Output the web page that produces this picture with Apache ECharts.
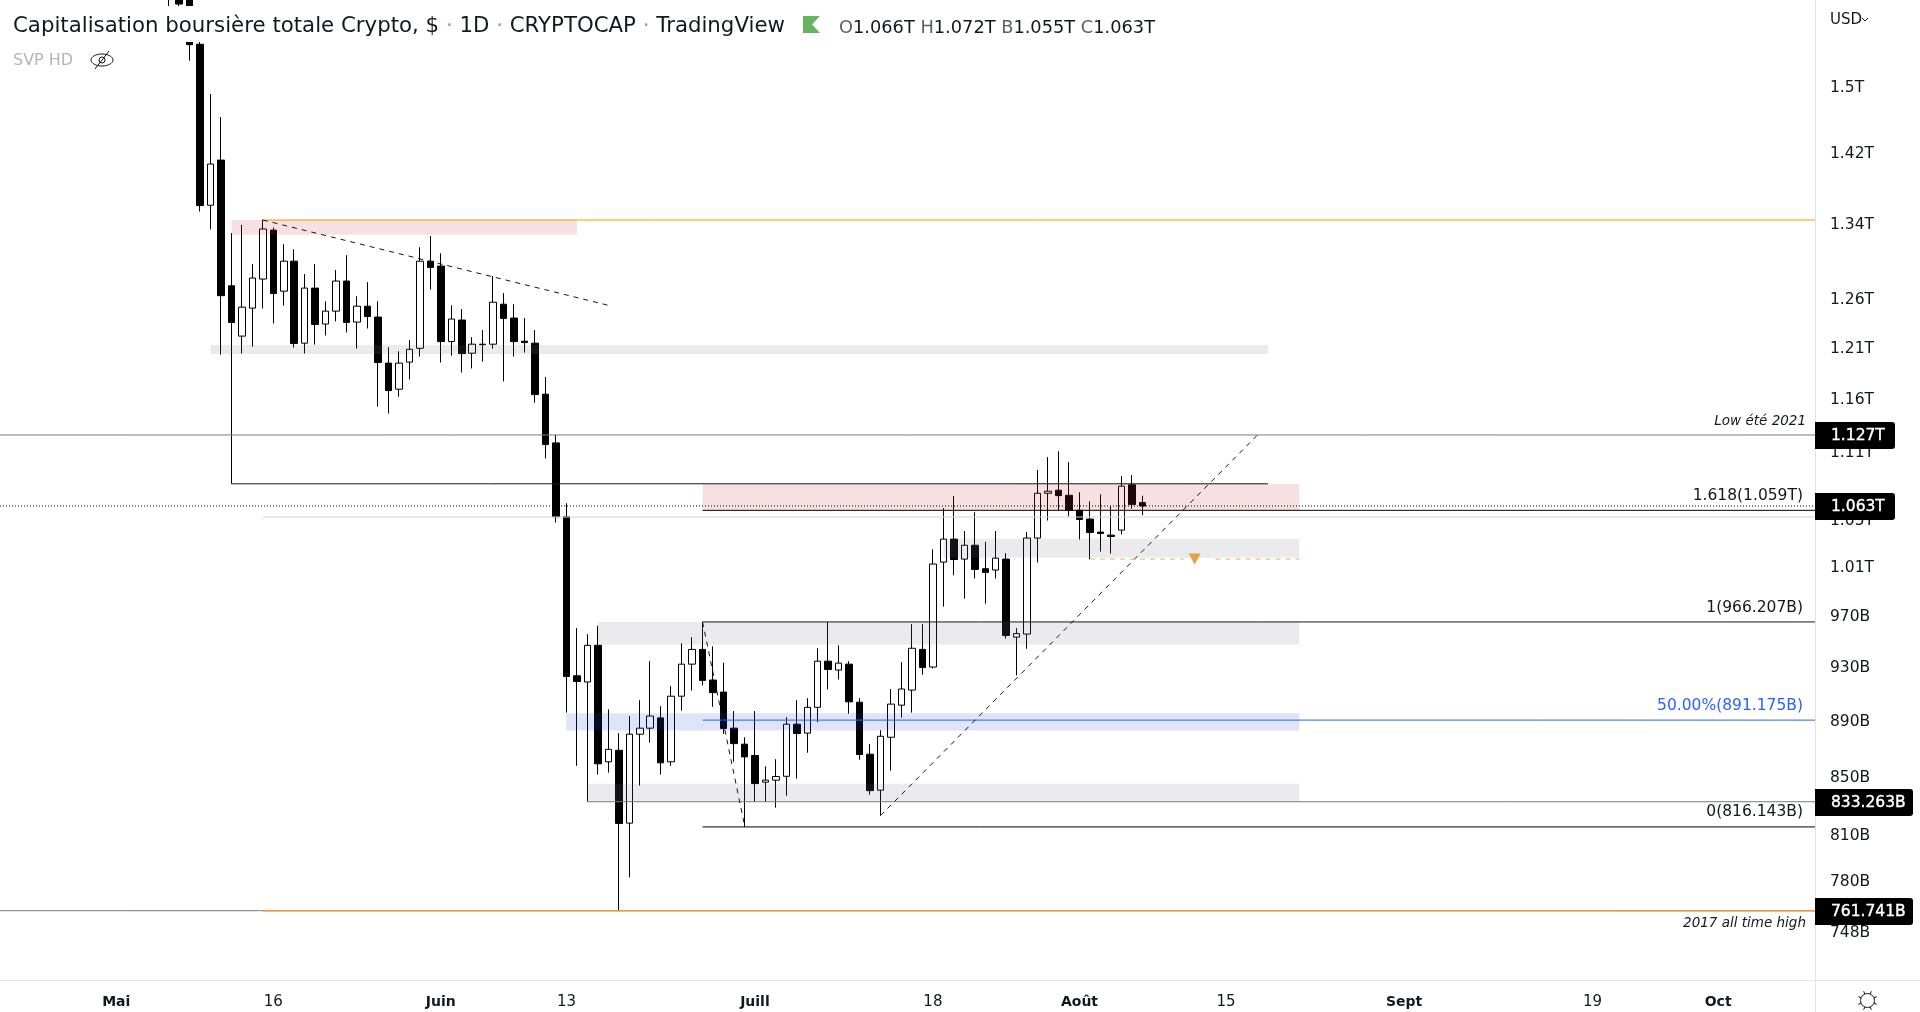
<!DOCTYPE html>
<html>
<head>
<meta charset="utf-8">
<title>Capitalisation boursière totale Crypto</title>
<script src="https://cdn.jsdelivr.net/npm/echarts@6/dist/echarts.min.js"></script>
<style>
  html, body { margin: 0; padding: 0; background: #fff; }
  #chart { width: 1920px; height: 1012px; }
</style>
</head>
<body>
<div id="chart"></div>
<script>
// bougies journalieres, valeurs en milliards
const dates = [
  '2022-05-06','2022-05-07','2022-05-08','2022-05-09','2022-05-10','2022-05-11','2022-05-12','2022-05-13','2022-05-14','2022-05-15',
  '2022-05-16','2022-05-17','2022-05-18','2022-05-19','2022-05-20','2022-05-21','2022-05-22','2022-05-23','2022-05-24','2022-05-25',
  '2022-05-26','2022-05-27','2022-05-28','2022-05-29','2022-05-30','2022-05-31','2022-06-01','2022-06-02','2022-06-03','2022-06-04',
  '2022-06-05','2022-06-06','2022-06-07','2022-06-08','2022-06-09','2022-06-10','2022-06-11','2022-06-12','2022-06-13','2022-06-14',
  '2022-06-15','2022-06-16','2022-06-17','2022-06-18','2022-06-19','2022-06-20','2022-06-21','2022-06-22','2022-06-23','2022-06-24',
  '2022-06-25','2022-06-26','2022-06-27','2022-06-28','2022-06-29','2022-06-30','2022-07-01','2022-07-02','2022-07-03','2022-07-04',
  '2022-07-05','2022-07-06','2022-07-07','2022-07-08','2022-07-09','2022-07-10','2022-07-11','2022-07-12','2022-07-13','2022-07-14',
  '2022-07-15','2022-07-16','2022-07-17','2022-07-18','2022-07-19','2022-07-20','2022-07-21','2022-07-22','2022-07-23','2022-07-24',
  '2022-07-25','2022-07-26','2022-07-27','2022-07-28','2022-07-29','2022-07-30','2022-07-31','2022-08-01','2022-08-02','2022-08-03',
  '2022-08-04','2022-08-05','2022-08-06','2022-08-07'
];
const opens = [
  1750,1625,1640,1554.7,1361.7,1413.3,1274.3,1222.6,1251.1,1281.4,
  1334.1,1268.7,1300.4,1215.5,1271.9,1234.8,1248.0,1279.3,1236.8,1253.1,
  1241.9,1195.7,1170.3,1196.7,1210.4,1300.4,1295.2,1217.1,1238.9,1205.5,
  1214.0,1214.5,1255.1,1240.9,1217.5,1215.5,1165.5,1119.7,1053.6,924.3,
  919.6,947.8,861.1,869.3,818.7,880.9,885.3,892.8,861.1,908.9,
  933.2,944.6,921.1,912.0,885.3,873.7,865.6,846.8,848.2,850.9,
  888.2,881.7,900.6,935.5,928.7,933.2,904.4,866.5,841.2,878.7,
  902.2,913.5,944.6,931.0,1015.0,1034.4,1017.5,1029.2,1009.5,1008.4,
  1017.5,954.2,956.6,1035.3,1074.2,1076.9,1072.4,1059.3,1051.6,1040.4,
  1037.8,1042.1,1081.7,1066
];
const closes = [
  1700,1607,1554.2,1361.3,1408.7,1264.0,1236.4,1252.1,1282.5,1335.3,
  1266.2,1300.4,1215.1,1271.9,1234.4,1248.0,1279.3,1236.4,1253.1,1242.5,
  1196.3,1169.0,1195.7,1209.4,1300.4,1293.7,1217.1,1239.9,1205.1,1214.5,
  1214.5,1257.2,1240.5,1217.1,1216.1,1165.1,1118.2,1053.6,923.8,920.0,
  947.8,859.7,870.0,818.5,880.9,885.3,894.2,860.4,908.9,933.2,
  944.6,920.8,911.6,885.0,874.1,864.6,845.8,848.2,850.7,888.2,
  881.4,900.6,935.5,929.1,934.0,904.7,866.3,840.9,879.4,903.0,
  914.3,945.5,930.7,1013.4,1034.4,1017.2,1029.2,1008.9,1006.4,1018.3,
  955.5,957.0,1035.3,1074.2,1076.0,1072.1,1059.3,1051.3,1040.1,1039.2,
  1036.6,1080.5,1064.2,1063
];
const lows = [
  1590,1590,1533.9,1354.7,1334.8,1204.1,1082.6,1205.1,1212.1,1250.7,
  1235.4,1253.7,1211.0,1205.1,1214.1,1223.2,1237.5,1226.3,1210.0,1230.3,
  1153.6,1147.1,1163.1,1179.7,1202.2,1270.4,1196.3,1203.1,1186.5,1190.5,
  1197.2,1210.0,1177.8,1202.2,1206.1,1157.4,1105.4,1048.7,896.7,858.3,
  833.3,852.1,853.5,761.7,782.9,844.4,874.8,852.1,858.3,898.1,
  913.2,917.0,901.0,881.1,861.1,816.1,833.0,833.0,829.2,837.4,
  849.3,867.6,889.7,914.0,921.5,895.9,862.6,838.1,823.8,854.9,
  893.0,896.7,925.1,929.9,978.5,1004.0,984.9,1001.4,980.9,1001.4,
  953.1,924.6,945.1,1014.7,1050.4,1059.3,1053.8,1034.1,1017.5,1023.8,
  1022.1,1038.4,1060.7,1055
];
const highs = [
  1790,1640,1670,1566.8,1492.4,1464.2,1330.8,1339.7,1297.3,1345.5,
  1337.0,1318.7,1313.2,1286.7,1297.3,1258.2,1290.9,1306.8,1263.4,1278.2,
  1258.2,1211.4,1207.4,1218.6,1315.4,1327.5,1308.9,1254.1,1250.1,1221.6,
  1228.7,1284.6,1266.6,1255.1,1240.9,1228.7,1182.1,1127.2,1065.4,961.3,
  956.6,963.2,899.1,881.7,894.2,905.9,935.5,901.5,916.5,949.4,
  954.2,966.1,947.0,934.3,897.8,878.7,897.8,857.9,862.9,893.3,
  905.9,907.4,945.5,966.1,947.8,935.5,907.4,873.7,883.8,914.3,
  934.8,964.5,964.5,1025.8,1061.1,1071.8,1041.3,1057.6,1032.1,1041.3,
  1022.5,961.3,1040.4,1095.0,1106.6,1112.0,1102.1,1075.1,1067.1,1073.3,
  1062.8,1089.5,1090.4,1072
];

const yTicks = [1500, 1420, 1340, 1260, 1210, 1160, 1110, 1050, 1010, 970, 930, 890, 850, 810, 780, 748];
const xTickDates = ['2022-05-01','2022-05-16','2022-06-01','2022-06-13','2022-07-01','2022-07-18','2022-08-01','2022-08-15','2022-09-01','2022-09-19','2022-10-01'];
const xTickLabels = ['Mai','16','Juin','13','Juill','18','Août','15','Sept','19','Oct'];

// zones: debut, fin, bas, haut
const pinkZones = [
  ['2022-05-12', '2022-06-14', 1329.0, 1345.2],
  ['2022-06-26', '2022-08-22', 1059.2, 1082.6]
];
const greyZones = [
  ['2022-05-10', '2022-08-19', 1204.8, 1213.8],
  ['2022-07-19', '2022-08-22', 1018.6, 1034.7],
  ['2022-06-16', '2022-08-22', 948.3, 966.2],
  ['2022-06-15', '2022-08-22', 833.3, 845.6]
];
const blueZones = [['2022-06-13', '2022-08-22', 883.6, 896.3]];

const ath2017 = 761.741;
const lowSummer = 1127;
const lastClose = 1063;
const fib1618 = 1059.2;
const fib1 = 966.207;
const fib50 = 891.175;
const fib0 = 816.143;
const demand = 833.263;
const resistance = 1345.2;
const rangeTop = 1082.6;
const greyLevel = 1053.4;
const alertLevel = 1017.5;

const downTrend = [['2022-05-15', 1345.2], ['2022-06-17', 1254]];
const dropTrend = [['2022-06-26', 966.2], ['2022-06-30', 817.5]];
const upTrend = [['2022-07-13', 823.8], ['2022-08-18', 1127]];

const font = '"DejaVu Sans", sans-serif';
const ink = '#131722';
const dayMs = 86400000;
const ts = d => {
  const p = d.split('-');
  return Date.UTC(+p[0], +p[1] - 1, +p[2]);
};
const may16 = ts('2022-05-16');
const xMin = may16 - 273.3 / 10.47 * dayMs;
const xMax = may16 + (1815 - 273.3) / 10.47 * dayMs;
const xTickTimes = xTickDates.map(ts);

function toX(d) {
  return typeof d === 'string' ? ts(d) : d;
}
function seg(points, color, width, type) {
  return {
    type: 'line',
    data: points.map(p => [toX(p[0]), p[1]]),
    showSymbol: false,
    symbol: 'none',
    silent: true,
    z: 4,
    lineStyle: { color, width, type: type || 'solid' },
    animation: false
  };
}
function zones(list, color) {
  return {
    type: 'line',
    data: [],
    silent: true,
    markArea: {
      silent: true,
      z: 3,
      animation: false,
      itemStyle: { color },
      data: list.map(r => [{ xAxis: ts(r[0]), yAxis: r[2] }, { xAxis: ts(r[1]), yAxis: r[3] }])
    }
  };
}
function text(x, y, str, fill, fontCss, align) {
  return {
    type: 'text', x, y, z: 30, silent: true,
    style: { text: str, fill, font: fontCss, align: align || 'left', verticalAlign: 'middle' }
  };
}
function tag(y, width, str) {
  return [
    { type: 'rect', z: 40, silent: true, shape: { x: 1815, y: y, width, height: 27, r: [0, 3, 3, 0] }, style: { fill: '#000' } },
    { type: 'text', z: 41, x: 1831, y: y + 14, silent: true,
      style: { text: str, fill: '#fff', stroke: '#fff', lineWidth: 0.4, font: '15.5px ' + font, verticalAlign: 'middle' } }
  ];
}
function line(x1, y1, x2, y2, stroke, w) {
  return { type: 'line', z: 30, silent: true, shape: { x1, y1, x2, y2 }, style: { stroke, lineWidth: w || 1 } };
}

// roue dentee en bas a droite
const gear = [{ type: 'circle', z: 30, silent: true, shape: { cx: 1867.5, cy: 1000.5, r: 7 }, style: { fill: '#fff', stroke: ink, lineWidth: 1 } }];
for (let i = 0; i < 8; i++) {
  const a = i * Math.PI / 4 + Math.PI / 8;
  gear.push(line(1867.5 + 7 * Math.cos(a), 1000.5 + 7 * Math.sin(a), 1867.5 + 10 * Math.cos(a), 1000.5 + 10 * Math.sin(a), ink));
}

const chart = echarts.init(document.querySelector('#chart'));
const option = {
  animation: false,
  backgroundColor: '#fff',
  grid: { left: 0, top: 0, width: 1815, height: 980 },
  xAxis: {
    type: 'value',
    min: xMin,
    max: xMax,
    axisLine: { show: false },
    axisTick: { show: false },
    splitLine: { show: false },
    axisLabel: {
      customValues: xTickTimes,
      margin: 15,
      fontFamily: font,
      fontSize: 15,
      color: ink,
      formatter: v => {
        const s = xTickLabels[xTickTimes.indexOf(v)];
        return isNaN(+s) ? '{b|' + s + '}' : s;
      },
      rich: { b: { fontFamily: font, fontSize: 14, fontWeight: 'bold', color: ink } }
    }
  },
  yAxis: {
    type: 'log',
    position: 'right',
    min: 719.5,
    max: 1612.4,
    axisLine: { show: false },
    axisTick: { show: false },
    splitLine: { show: false },
    minorTick: { show: false },
    axisLabel: {
      customValues: yTicks,
      margin: 15,
      align: 'left',
      padding: [7, 0, 0, 0],
      fontFamily: font,
      fontSize: 15.5,
      color: ink,
      formatter: v => v >= 1000 ? (+(v / 1000).toFixed(2)) + 'T' : v + 'B'
    }
  },
  series: [
    {
      type: 'candlestick',
      data: dates.map((d, i) => [ts(d), opens[i], closes[i], lows[i], highs[i]]),
      encode: { x: 0, y: [1, 2, 3, 4] },
      barWidth: 7,
      silent: true,
      z: 2,
      itemStyle: { color: '#fff', color0: '#000', borderColor: '#000', borderColor0: '#000', borderWidth: 1 }
    },
    zones(pinkZones, 'rgba(195,48,62,0.15)'),
    zones(greyZones, 'rgba(120,123,134,0.15)'),
    zones(blueZones, 'rgba(35,75,222,0.15)'),
    seg([[xMin, lowSummer], [xMax, lowSummer]], '#787b86', 1),
    seg([[xMin, lastClose], [xMax, lastClose]], '#000', 1, [1, 2]),
    seg([['2022-05-15', resistance], [xMax, resistance]], '#ff9800', 1),
    seg([['2022-05-12', rangeTop], ['2022-08-19', rangeTop]], ink, 1),
    seg([['2022-05-15', greyLevel], [xMax, greyLevel]], '#d1d4dc', 1),
    seg([['2022-06-26', fib1618], [xMax, fib1618]], '#000', 1),
    seg([['2022-06-26', fib1], [xMax, fib1]], ink, 1),
    seg([['2022-06-26', fib50], [xMax, fib50]], '#2962ff', 1),
    seg([['2022-06-26', fib0], [xMax, fib0]], '#000', 1),
    seg([['2022-06-15', demand], [xMax, demand]], '#787b86', 1),
    seg([[xMin, ath2017], [xMax, ath2017]], '#787b86', 1),
    seg([['2022-05-15', ath2017], [xMax, ath2017]], '#e69a3c', 1.5),
    seg(downTrend, ink, 1, [5, 5]),
    seg(dropTrend, ink, 1, [5, 5]),
    seg(upTrend, ink, 1, [5, 5]),
    seg([['2022-08-02', alertLevel], ['2022-08-11', alertLevel]], '#eeb060', 1, [5, 5]),
    Object.assign(seg([['2022-08-14', alertLevel], ['2022-08-22', alertLevel]], '#eeb060', 1, [5, 5]), {
      markPoint: {
        silent: true,
        symbol: 'triangle',
        symbolRotate: 180,
        symbolSize: [12, 11],
        itemStyle: { color: '#e9a040' },
        label: { show: false },
        data: [{ coord: [ts('2022-08-12'), alertLevel] }]
      }
    })
  ],
  graphic: [
    // bandeau de titre, il masque le graphique
    { type: 'rect', z: 25, silent: true, shape: { x: 0, y: 6, width: 1165, height: 36 }, style: { fill: '#fff' } },
    line(1815.5, 0, 1815.5, 1012, '#e0e3eb'),
    line(0, 980.5, 1920, 980.5, '#e0e3eb'),
    {
      type: 'text', x: 13, y: 26, z: 30, silent: true,
      style: {
        text: 'Capitalisation boursière totale Crypto, $ {d|·} 1D {d|·} CRYPTOCAP {d|·} TradingView',
        fill: ink, font: '21.3px ' + font, verticalAlign: 'middle',
        rich: { d: { fill: '#9598a1', font: '21.3px ' + font } }
      }
    },
    { type: 'polygon', z: 30, silent: true, shape: { points: [[803, 16], [820, 16], [812, 24.5], [820, 33], [803, 33]] }, style: { fill: '#66b361' } },
    {
      type: 'text', x: 839, y: 28, z: 30, silent: true,
      style: {
        text: '{l|O}1.066T {l|H}1.072T {l|B}1.055T {l|C}1.063T',
        fill: ink, font: '17.8px ' + font, verticalAlign: 'middle',
        rich: { l: { fill: '#5d606b', font: '17.8px ' + font } }
      }
    },
    text(13, 61, 'SVP HD', '#b2b5be', '16px ' + font),
    { type: 'ellipse', z: 30, silent: true, shape: { cx: 102, cy: 60, rx: 11, ry: 6 }, style: { fill: 'none', stroke: ink, lineWidth: 1 } },
    { type: 'circle', z: 30, silent: true, shape: { cx: 102, cy: 60, r: 3 }, style: { fill: 'none', stroke: ink, lineWidth: 1 } },
    line(95, 69, 109, 51, ink),
    text(1830, 20, 'USD', ink, '15px ' + font),
    { type: 'polyline', z: 30, silent: true, shape: { points: [[1862, 18], [1865, 21], [1868, 18]] }, style: { fill: 'none', stroke: ink, lineWidth: 1 } },
    text(1806, 421, 'Low été 2021', ink, 'italic 13.5px ' + font, 'right'),
    text(1806, 923, '2017 all time high', ink, 'italic 13.5px ' + font, 'right'),
    text(1803, 496, '1.618(1.059T)', ink, '15.5px ' + font, 'right'),
    text(1803, 608, '1(966.207B)', ink, '15.5px ' + font, 'right'),
    text(1803, 706, '50.00%(891.175B)', '#2962ff', '15.5px ' + font, 'right'),
    text(1803, 812, '0(816.143B)', ink, '15.5px ' + font, 'right')
  ].concat(
    tag(422, 80, '1.127T'),
    tag(493, 80, '1.063T'),
    tag(789, 98, '833.263B'),
    tag(898, 98, '761.741B'),
    gear
  )
};
chart.setOption(option);
</script>
</body>
</html>
